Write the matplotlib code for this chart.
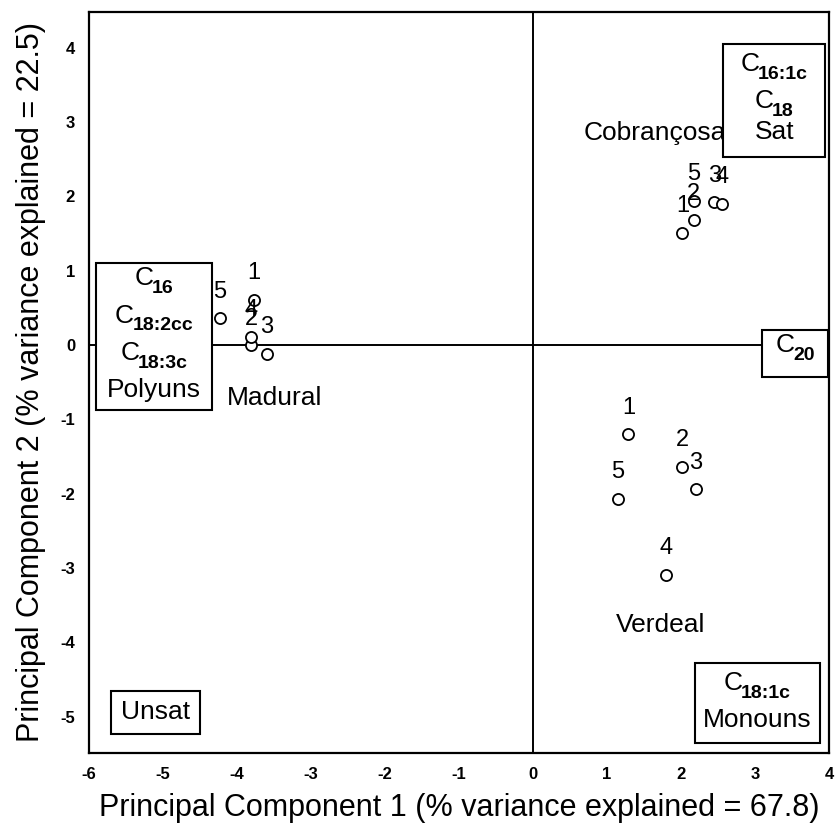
import matplotlib
matplotlib.use("Agg")
import matplotlib.pyplot as plt
from matplotlib.patches import Rectangle

plt.rcParams['font.family'] = ['Liberation Sans', 'DejaVu Sans']

# ---- data ----
sample_ids = ['1', '2', '3', '4', '5']
madural_x = [-3.77, -3.81, -3.60, -3.81, -4.23]
madural_y = [0.61, 0.00, -0.12, 0.11, 0.36]
cobrancosa_x = [2.02, 2.17, 2.45, 2.55, 2.17]
cobrancosa_y = [1.51, 1.68, 1.92, 1.90, 1.94]
verdeal_x = [1.29, 2.02, 2.20, 1.80, 1.15]
verdeal_y = [-1.20, -1.64, -1.94, -3.09, -2.07]

group_names = ['Madural', 'Cobrançosa', 'Verdeal']
group_label_x = [-3.49, 1.64, 1.72]
group_label_y = [-0.71, 2.85, -3.77]

x_ticks = [-6, -5, -4, -3, -2, -1, 0, 1, 2, 3, 4]
y_ticks = [-5, -4, -3, -2, -1, 0, 1, 2, 3, 4]
x_label = 'Principal Component 1 (% variance explained = 67.8)'
y_label = 'Principal Component 2 (% variance explained = 22.5)'

fig = plt.figure(figsize=(8.36, 8.31), dpi=100)
ax = fig.add_axes([89/836, 1-753/831, (829-89)/836, (753-12)/831])
ax.set_xlim(-6, 4)
ax.set_ylim(-5.49, 4.48)

ax.axhline(0, color='black', lw=1.4, zorder=1)
ax.axvline(0, color='black', lw=1.4, zorder=1)

for xs, ys in [(madural_x, madural_y), (cobrancosa_x, cobrancosa_y), (verdeal_x, verdeal_y)]:
    ax.plot(xs, ys, 'o', ls='none', mfc='white', mec='black', mew=1.3, ms=8, zorder=3)
    for sid, xv, yv in zip(sample_ids, xs, ys):
        ax.annotate(sid, (xv, yv), xytext=(0, 19), textcoords='offset points',
                    ha='center', va='center', fontsize=17, zorder=4)

for name, gx, gy in zip(group_names, group_label_x, group_label_y):
    ax.text(gx, gy, name, ha='center', va='center', fontsize=19, zorder=4)

renderer = fig.canvas.get_renderer()
MAIN_FS = 19
SUB_FS = 14


def box(x0, x1, y0, y1):
    ax.add_patch(Rectangle((x0, y1), x1 - x0, y0 - y1, fill=True, facecolor='white',
                           edgecolor='black', lw=1.5, zorder=5))


def t(x, y, s):
    ax.text(x, y, s, ha='center', va='center', fontsize=MAIN_FS, zorder=6)


def sub_label(x, y, base, sub):
    # base letter and bold subscript, centred together on (x, y)
    bt = ax.annotate(base, (x, y), xytext=(0, 0), textcoords='offset points',
                     ha='left', va='center', fontsize=MAIN_FS, zorder=6)
    st = ax.annotate(sub, (x, y), xytext=(0, 0), textcoords='offset points',
                     ha='left', va='center', fontsize=SUB_FS, fontweight='bold', zorder=6)
    wb = bt.get_window_extent(renderer).width * 72 / fig.dpi
    ws = st.get_window_extent(renderer).width * 72 / fig.dpi
    gap = -1.0
    total = wb + gap + ws
    bt.xyann = (-total / 2, 3.0)
    st.xyann = (-total / 2 + wb + gap, -4.5)


box(2.57, 3.95, 4.05, 2.53)
sub_label(3.26, 3.72, 'C', '16:1c')
sub_label(3.26, 3.22, 'C', '18')
t(3.26, 2.86, 'Sat')

box(-5.905, -4.34, 1.10, -0.87)
sub_label(-5.12, 0.84, 'C', '16')
sub_label(-5.12, 0.34, 'C', '18:2cc')
sub_label(-5.12, -0.16, 'C', '18:3c')
t(-5.12, -0.61, 'Polyuns')

box(3.09, 3.99, 0.20, -0.43)
sub_label(3.54, -0.06, 'C', '20')

box(2.19, 3.88, -4.28, -5.36)
sub_label(3.03, -4.60, 'C', '18:1c')
t(3.03, -5.05, 'Monouns')

box(-5.70, -4.50, -4.66, -5.24)
t(-5.10, -4.94, 'Unsat')

ax.set_xticks(x_ticks)
ax.set_yticks(y_ticks)
ax.set_xticklabels([str(v) for v in x_ticks], fontweight='bold', fontsize=12)
ax.set_yticklabels([str(v) for v in y_ticks], fontweight='bold', fontsize=12)
ax.tick_params(length=0, pad=10)
for sp in ax.spines.values():
    sp.set_linewidth(1.6)

ax.set_xlabel(x_label, fontsize=22, labelpad=8)
ax.set_ylabel(y_label, fontsize=22, labelpad=10)

fig.savefig('out.png', dpi=100)
